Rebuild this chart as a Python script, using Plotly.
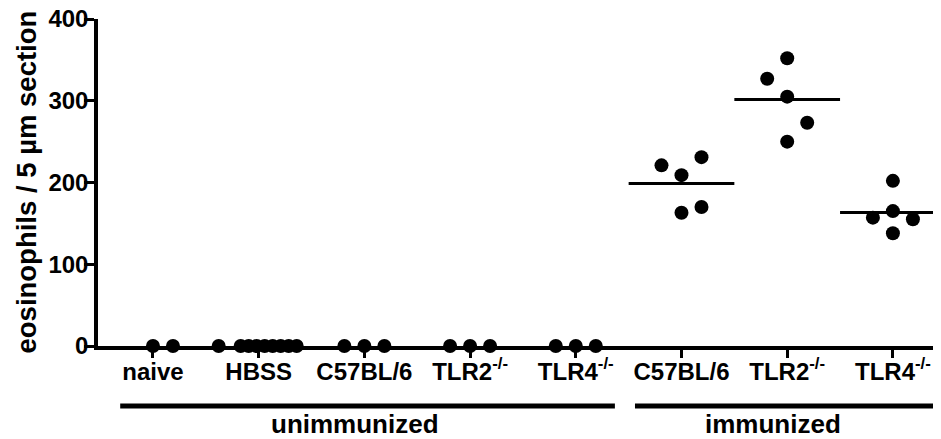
import plotly.graph_objects as go

# ---- data ----
categories = ["naive", "HBSS", "C57BL/6", "TLR2<sup>-/-</sup>", "TLR4<sup>-/-</sup>",
              "C57BL/6", "TLR2<sup>-/-</sup>", "TLR4<sup>-/-</sup>"]
naive = [0, 0]
hbss = [0, 0, 0, 0, 0, 0, 0, 0, 0]
c57_unimm = [0, 0, 0]
tlr2_unimm = [0, 0, 0]
tlr4_unimm = [0, 0, 0]
c57_imm = [221, 209, 231, 163, 170]
tlr2_imm = [352, 327, 305, 273, 250]
tlr4_imm = [202, 165, 157, 155, 138]
groups = ["unimmunized", "immunized"]
y_ticks = [0, 100, 200, 300, 400]

series = [naive, hbss, c57_unimm, tlr2_unimm, tlr4_unimm, c57_imm, tlr2_imm, tlr4_imm]

# ---- horizontal scatter spread (style, in fractions of a category width) ----
u = 1 / 105.7
jitter = [
    [0, 20 * u],
    [-40 * u, -18 * u, -10 * u, -2 * u, 6 * u, 14 * u, 22 * u, 30 * u, 38 * u],
    [-20 * u, 0, 20 * u],
    [-20 * u, 0, 20 * u],
    [-20 * u, 0, 20 * u],
    [-20 * u, 0, 20 * u, 0, 20 * u],
    [0, -20 * u, 0, 20 * u, 0],
    [0, 0, -20 * u, 20 * u, 0],
]

FONT = "Liberation Sans, Arial, sans-serif"
fig = go.Figure()

for i, (vals, jit) in enumerate(zip(series, jitter)):
    mean = sum(vals) / len(vals)
    if mean > 0:  # a zero mean coincides with the x axis line
        fig.add_trace(go.Scatter(
            x=[i - 0.5, i + 0.5], y=[mean, mean], mode="lines",
            line=dict(color="black", width=3), hoverinfo="skip", showlegend=False))
    fig.add_trace(go.Scatter(
        x=[i + j for j in jit], y=vals, mode="markers",
        marker=dict(color="black", size=14, line=dict(width=0)),
        cliponaxis=False, showlegend=False))

# page body has an 8px margin; compensate so the plot lands where the reference has it
fig.update_layout(
    width=933, height=431,
    margin=dict(l=90, r=0, t=11, b=93),
    paper_bgcolor="white", plot_bgcolor="white",
    showlegend=False,
    font=dict(family=FONT, color="black"),
)
fig.update_xaxes(
    range=[-0.52, 7.455], tickmode="array", tickvals=list(range(len(categories))),
    ticktext=categories, showgrid=False, zeroline=False,
    showline=True, linecolor="black", linewidth=3.5,
    ticks="outside", ticklen=8, tickwidth=3, tickcolor="black",
    ticklabelstandoff=-7, automargin=False, ticklabeloverflow="allow",
    tickfont=dict(size=24, family=FONT, weight="bold", color="black"),
)
fig.update_yaxes(
    range=[0, 400], tickvals=y_ticks, showgrid=False, zeroline=False,
    showline=True, linecolor="black", linewidth=3.5,
    ticks="outside", ticklen=10, tickwidth=3, tickcolor="black",
    ticklabelstandoff=-9, automargin=False, ticklabeloverflow="allow",
    tickfont=dict(size=24, family=FONT, weight="bold", color="black"),
)

fig.add_annotation(
    text="eosinophils / 5 µm section", textangle=-90,
    xref="paper", yref="paper", x=-0.0854, y=0.5, xanchor="center", yanchor="middle",
    showarrow=False, font=dict(size=27.5, family=FONT, weight="bold", color="black"))

# group brackets
brackets = [(-0.31, 4.37), (4.56, 7.42)]
for name, (x0, x1) in zip(groups, brackets):
    fig.add_shape(type="line", xref="x", yref="paper", x0=x0, x1=x1,
                  y0=-0.1835, y1=-0.1835, line=dict(color="black", width=5))
    fig.add_annotation(text=name, xref="x", yref="paper", x=(x0 + x1) / 2 - 0.12, y=-0.238,
                       xanchor="center", yanchor="middle", showarrow=False,
                       font=dict(size=26, family=FONT, weight="bold", color="black"))

fig.write_html("out.html")
